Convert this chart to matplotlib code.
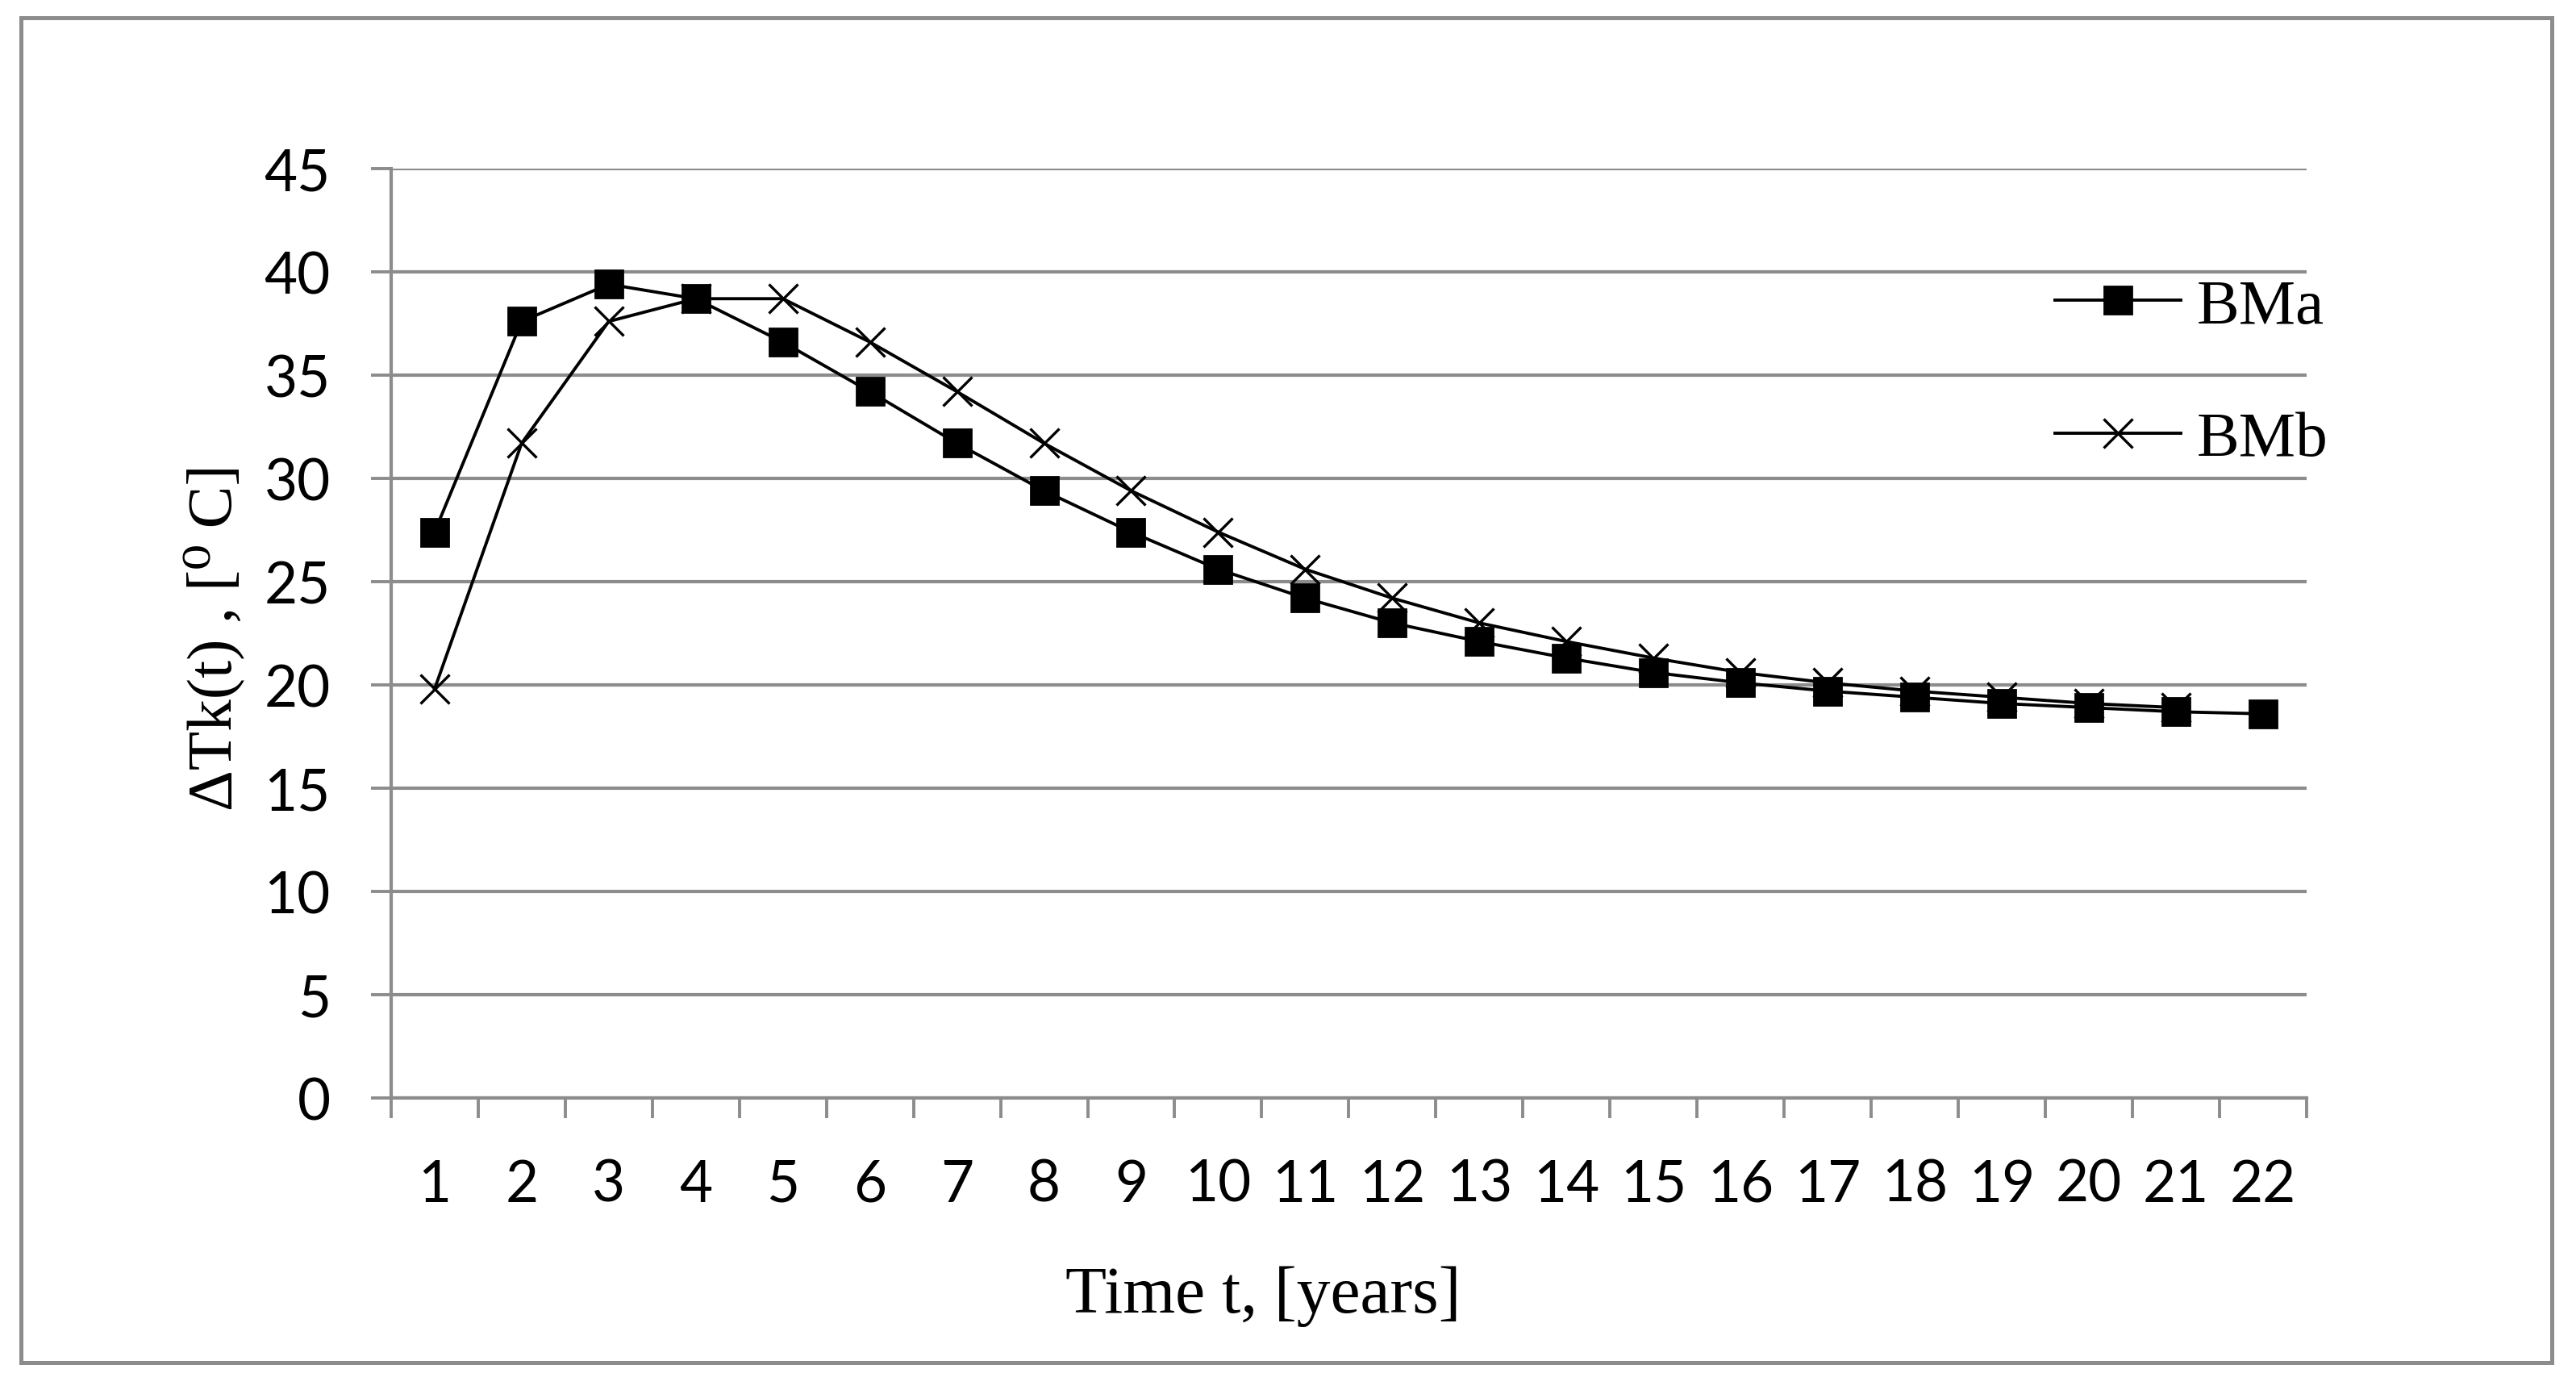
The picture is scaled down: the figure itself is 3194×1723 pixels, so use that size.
import matplotlib
matplotlib.use("Agg")
import matplotlib.pyplot as plt
from matplotlib.patches import Rectangle

years = list(range(1, 23))
bma = [27.4, 37.6, 39.4, 38.7, 36.6, 34.2, 31.7, 29.4, 27.4, 25.6, 24.2,
       23.0, 22.1, 21.3, 20.6, 20.1, 19.7, 19.4, 19.1, 18.9, 18.7, 18.6]
bmb = [19.8, 31.7, 37.6, 38.7, 38.7, 36.6, 34.2, 31.7, 29.4, 27.4, 25.6,
       24.2, 23.0, 22.1, 21.3, 20.6, 20.1, 19.7, 19.4, 19.1, 18.9]
yticks = [0, 5, 10, 15, 20, 25, 30, 35, 40, 45]

grid_col = '#8c8c8c'
serif = ['Liberation Serif', 'DejaVu Serif']

fig = plt.figure(figsize=(15.97, 8.62), dpi=200)
ax = fig.add_axes([0.1518, 0.2100, 0.7436, 0.6682])

ax.plot(years[:len(bmb)], bmb, color='black', lw=1.4, marker='x', ms=13,
        mew=1.2, label='BMb', zorder=3)
ax.plot(years, bma, color='black', lw=1.4, marker='s', ms=12.5,
        label='BMa', zorder=4)

ax.set_xlim(0.5, 22.5)
ax.set_ylim(0, 45)
ax.set_yticks(yticks)
ax.set_xticks(years)
ax.set_xticklabels([str(y) for y in years])
ax.set_xticks([y - 0.5 for y in years] + [22.5], minor=True)

ax.tick_params(axis='x', which='major', length=0, pad=27, labelsize=25.5)
ax.tick_params(axis='x', which='minor', length=9, width=1.4, color=grid_col,
               direction='out')
ax.tick_params(axis='y', length=9, width=1.4, color=grid_col, pad=18,
               labelsize=25.5)
for lbl in ax.get_xticklabels() + ax.get_yticklabels():
    lbl.set_family('Lato')

ax.grid(axis='y', color=grid_col, lw=1.5)
ax.set_axisbelow(True)
for s in ['top', 'right']:
    ax.spines[s].set_visible(False)
for s in ['left', 'bottom']:
    ax.spines[s].set_color(grid_col)
    ax.spines[s].set_linewidth(1.5)

h, l = ax.get_legend_handles_labels()
leg = ax.legend(h[::-1], l[::-1], loc='center left',
                bbox_to_anchor=(2548 / 3194, 1 - 464 / 1724),
                bbox_transform=fig.transFigure, frameon=False,
                borderpad=0, borderaxespad=0, handlelength=1.97,
                handletextpad=0.25, labelspacing=1.16,
                prop={'family': serif, 'size': 28.5})

fig.text(1566 / 3194, 1 - 1627 / 1724, 'Time t, [years]', ha='center',
         va='baseline', family=serif, fontsize=30)
fig.text(266 / 3194, 1 - 790 / 1724, 'ΔTk(t) , [⁰ C]', ha='center',
         va='center', rotation=90, family=serif, fontsize=28.5)

fig.patches.append(Rectangle((26 / 3194, 1 - 1690 / 1724),
                             (3164 - 26) / 3194, (1690 - 23) / 1724,
                             transform=fig.transFigure, fill=False,
                             edgecolor=grid_col, lw=1.8))

fig.savefig('out.png', dpi=200)
